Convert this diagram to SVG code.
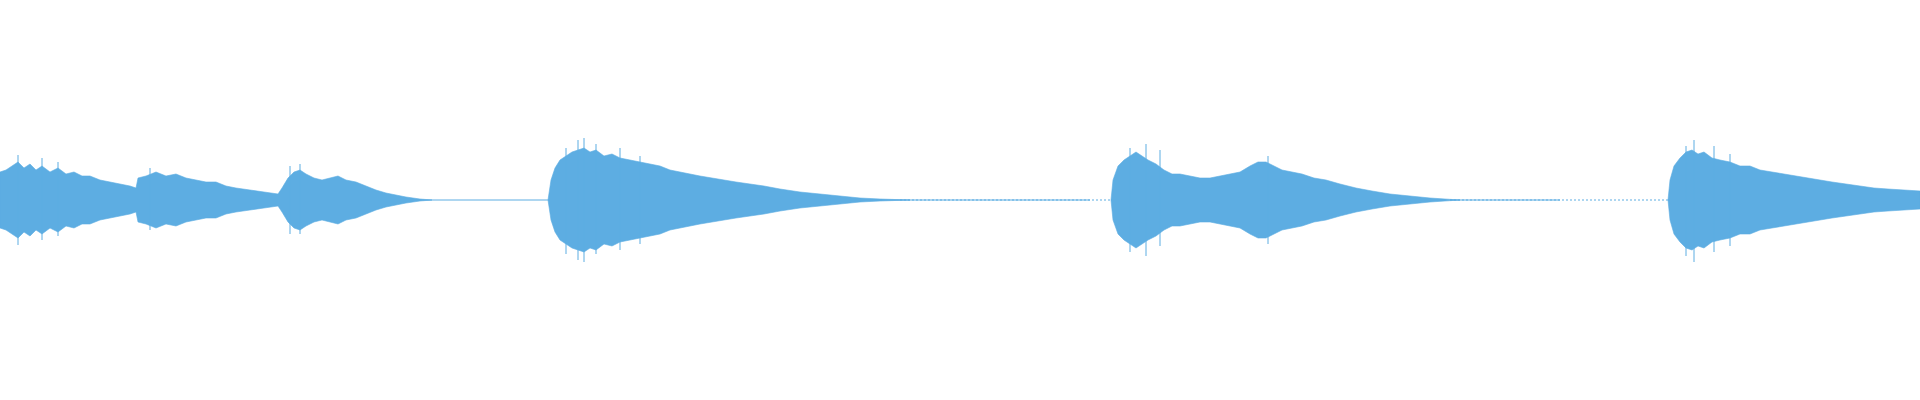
<svg xmlns="http://www.w3.org/2000/svg" width="1920" height="400" viewBox="0 0 1920 400">
<style>.w{fill:#5DADE2;stroke:#5DADE2;stroke-width:0.6}.c{stroke:#5DADE2;stroke-width:1;fill:none}.d{stroke:#5DADE2;stroke-width:1;stroke-dasharray:2 2;fill:none}.s{stroke:#5DADE2;stroke-width:1}</style>
<rect width="1920" height="400" fill="#fff"/>
<line class="c" x1="0" y1="200" x2="1090" y2="200"/>
<line class="d" x1="900" y1="200" x2="1110" y2="200"/>
<line class="d" x1="1450" y1="200" x2="1668" y2="200"/>
<line class="c" x1="1450" y1="200" x2="1560" y2="200"/>
<path class="w" d="M0,172 L6,170 12,166 18,162 24,168 30,164 36,170 42,166 50,172 58,168 66,174 74,172 82,176 90,176 100,180 110,182 120,184 130,186 136,188 138,178 146,176 156,172 166,176 176,174 186,178 196,180 206,182 216,182 226,186 236,188 250,190 264,192 278,194 282,188 288,178 294,172 300,170 306,174 314,178 322,180 330,178 338,176 346,180 356,182 366,186 376,190 386,193 396,195 406,197 420,199 432,200 420,201 406,203 396,205 386,207 376,210 366,214 356,218 346,220 338,224 330,222 322,220 314,222 306,226 300,230 294,228 288,222 282,212 278,206 264,208 250,210 236,212 226,214 216,218 206,218 196,220 186,222 176,226 166,224 156,228 146,224 138,222 136,212 130,214 120,216 110,218 100,220 90,224 82,224 74,228 66,226 58,232 50,228 42,234 36,230 30,236 24,232 18,238 12,234 6,230 0,228 Z"/>
<path class="w" d="M548,200 L551,180 555,168 560,160 566,156 572,152 578,150 584,148 590,152 596,150 604,156 612,154 620,158 630,160 640,162 650,164 660,166 670,170 680,172 690,174 700,176 712,178 724,180 736,182 750,184 764,186 780,189 800,192 820,194 840,196 860,198 880,199 910,200 880,201 860,202 840,204 820,206 800,208 780,211 764,214 750,216 736,218 724,220 712,222 700,224 690,226 680,228 670,230 660,234 650,236 640,238 630,240 620,242 612,246 604,244 596,250 590,248 584,252 578,250 572,248 566,244 560,240 555,232 551,220 Z"/>
<path class="w" d="M1111,200 L1113,180 1118,166 1124,160 1130,156 1136,152 1142,156 1148,160 1156,164 1164,170 1172,174 1180,174 1190,176 1200,178 1210,178 1220,176 1230,174 1240,172 1250,166 1258,162 1266,162 1274,166 1282,170 1292,172 1302,174 1314,178 1326,180 1340,184 1356,188 1372,191 1390,194 1410,196 1430,198 1460,200 1430,202 1410,204 1390,206 1372,209 1356,212 1340,216 1326,220 1314,222 1302,226 1292,228 1282,230 1274,234 1266,238 1258,238 1250,234 1240,228 1230,226 1220,224 1210,222 1200,222 1190,224 1180,226 1172,226 1164,230 1156,236 1148,240 1142,244 1136,248 1130,244 1124,240 1118,234 1113,220 Z"/>
<path class="w" d="M1668,200 L1670,180 1674,166 1680,158 1686,152 1692,150 1698,154 1704,152 1712,158 1720,160 1730,162 1740,166 1750,166 1760,170 1772,172 1784,174 1796,176 1808,178 1820,180 1832,182 1846,184 1860,186 1874,188 1888,189 1904,190 1920,191 L1920,209 1904,210 1888,211 1874,212 1860,214 1846,216 1832,218 1820,220 1808,222 1796,224 1784,226 1772,228 1760,230 1750,234 1740,234 1730,238 1720,240 1712,242 1704,248 1698,246 1692,250 1686,248 1680,242 1674,234 1670,220 Z"/>
<g class="s">
<line x1="18" y1="155" x2="18" y2="245"/><line x1="42" y1="158" x2="42" y2="240"/><line x1="58" y1="162" x2="58" y2="236"/>
<line x1="150" y1="168" x2="150" y2="230"/><line x1="290" y1="166" x2="290" y2="234"/><line x1="300" y1="164" x2="300" y2="234"/>
<line x1="566" y1="148" x2="566" y2="254"/><line x1="578" y1="140" x2="578" y2="260"/><line x1="584" y1="138" x2="584" y2="262"/><line x1="596" y1="144" x2="596" y2="254"/><line x1="620" y1="148" x2="620" y2="250"/><line x1="640" y1="156" x2="640" y2="244"/>
<line x1="1130" y1="148" x2="1130" y2="252"/><line x1="1146" y1="144" x2="1146" y2="256"/><line x1="1160" y1="150" x2="1160" y2="246"/><line x1="1268" y1="156" x2="1268" y2="244"/>
<line x1="1686" y1="146" x2="1686" y2="256"/><line x1="1694" y1="140" x2="1694" y2="262"/><line x1="1714" y1="146" x2="1714" y2="252"/><line x1="1730" y1="154" x2="1730" y2="246"/>
</g>
</svg>
